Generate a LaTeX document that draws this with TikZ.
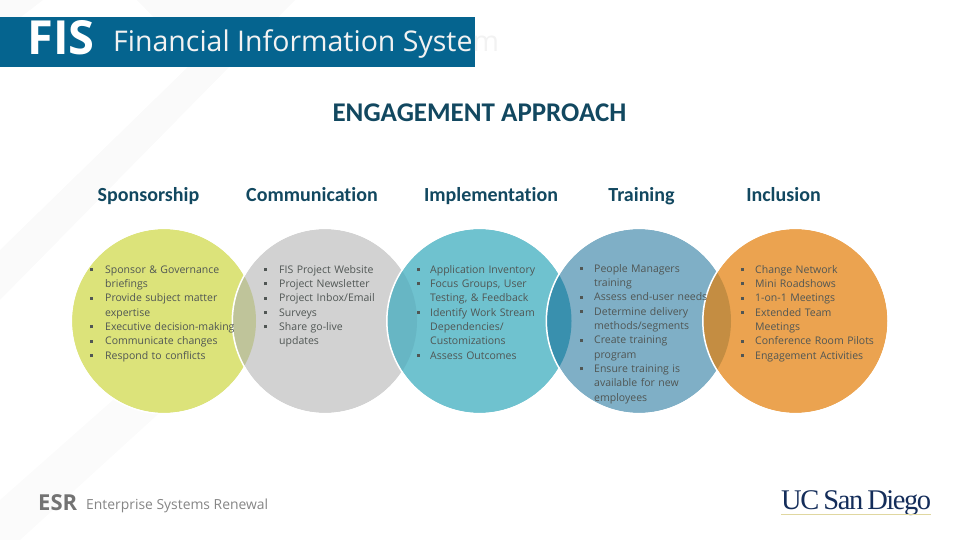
\documentclass[tikz,border=0pt]{standalone}
\usepackage{fontspec}
\setmainfont{Open Sans}
\newfontfamily\titlefont[Ligatures=NoCommon]{Carlito}
\newfontfamily\ucsdfont[LetterSpace=-5,WordSpace=0.7]{Liberation Serif}
\usetikzlibrary{math}
\definecolor{fisblue}{RGB}{5, 100, 143}
\definecolor{fisnavy}{RGB}{18, 72, 96}
\definecolor{fisgreen}{RGB}{220, 227, 122}
\definecolor{fisgray}{RGB}{210, 210, 210}
\definecolor{fisteal}{RGB}{111, 194, 207}
\definecolor{fissteel}{RGB}{127, 175, 198}
\definecolor{fisorange}{RGB}{235, 163, 80}
\definecolor{lapgreen}{RGB}{191, 196, 154}
\definecolor{lapteal}{RGB}{103, 182, 196}
\definecolor{lapsteel}{RGB}{57, 144, 174}
\definecolor{laporange}{RGB}{196, 141, 66}
\definecolor{bodygray}{RGB}{80, 86, 84}
\definecolor{ucsdnavy}{RGB}{20, 45, 90}
\definecolor{ucsdgold}{RGB}{224, 215, 160}

\newenvironment{fislist}[1]{%
  \begin{list}{\rule[0.18em]{3pt}{3pt}}{%
    \setlength{\leftmargin}{#1}\setlength{\labelwidth}{#1}\setlength{\labelsep}{0pt}%
    \setlength{\itemsep}{0pt}\setlength{\parsep}{0pt}\setlength{\topsep}{0pt}\setlength{\partopsep}{0pt}%
    \setlength{\parskip}{0pt}\setlength{\itemindent}{0pt}%
    \renewcommand{\makelabel}[1]{##1\hfill}}%
}{\end{list}}

\tikzset{
  header/.style={font=\fontsize{#1}{#1}\selectfont, anchor=base west, inner sep=0pt},
  coltitle/.style={font=\fontsize{20}{22}\selectfont\titlefont\bfseries, text=fisnavy, inner sep=0pt, anchor=base},
  listbox/.style={anchor=north west, inner sep=0pt, text width=170pt, text=bodygray,
    font=\fontsize{10.5}{14.33}\selectfont},
}

\begin{document}
\begin{tikzpicture}[x=1pt,y=-1pt]
\tikzmath{
\R=92;
\Y=321;
}
\useasboundingbox (0,0) rectangle (960,540);

%background
\fill[black!2] (137,0) -- (295,0) -- (0,300) -- (0,250) -- (195,60) -- cycle;
\fill[black!2] (0,0) -- (43,0) -- (0,33) -- cycle;
\fill[black!1.5] (0,500) -- (130,385) -- (190,385) -- (20,540) -- (0,540) -- cycle;

%circles
\foreach \cx/\px/\col/\lap in {164/0/fisgreen/fisgreen,325/164/fisgray/lapgreen,479.5/325/fisteal/lapteal,639/479.5/fissteel/lapsteel,795.5/639/fisorange/laporange}{
  \fill[color=\col] (\cx,\Y) circle(\R);
  \begin{scope}
    \clip (\px,\Y) circle(\R);
    \fill[color=\lap] (\cx,\Y) circle(\R);
  \end{scope}
  \draw[white, line width=1.5] (\cx,\Y) circle(\R+0.7);
}

%header
\fill[fisblue] (0,17) rectangle (475,67);
\node[header=47, text=white, font=\fontsize{47}{47}\selectfont\bfseries] (fis) at (27,55) {FIS};
\node[header=28.5, text=black!5] (fisname) at (113,52) {Financial Information System};
\node[text=fisnavy, font=\fontsize{27}{29}\selectfont\titlefont\bfseries, inner sep=0pt, anchor=base] (approach) at (479.5,122) {ENGAGEMENT APPROACH};

%column titles
\node[coltitle] (sponsorship) at (148.5,201) {Sponsorship};
\node[coltitle] (communication) at (312,201) {Communication};
\node[coltitle] (implementation) at (491,201) {Implementation};
\node[coltitle] (training) at (641.5,201) {Training};
\node[coltitle] (inclusion) at (783.5,201) {Inclusion};

%lists
\node[listbox] (sponsorlist) at (90,258.5) {\begin{fislist}{15pt}
\item Sponsor \& Governance\\ briefings
\item Provide subject matter\\ expertise
\item Executive decision-making
\item Communicate changes
\item Respond to conflicts
\end{fislist}};
\node[listbox] (commlist) at (264,258.5) {\begin{fislist}{15pt}
\item FIS Project Website
\item Project Newsletter
\item Project Inbox/Email
\item Surveys
\item Share go-live\\ updates
\end{fislist}};
\node[listbox] (implist) at (417,258.5) {\begin{fislist}{13pt}
\item Application Inventory
\item Focus Groups, User\\ Testing, \& Feedback
\item Identify Work Stream\\ Dependencies/\\ Customizations
\item Assess Outcomes
\end{fislist}};
\node[listbox] (trainlist) at (580,257.5) {\begin{fislist}{14pt}
\item People Managers\\ training
\item Assess end-user needs
\item Determine delivery\\ methods/segments
\item Create training\\ program
\item Ensure training is\\ available for new\\ employees
\end{fislist}};
\node[listbox] (inclist) at (741,258.5) {\begin{fislist}{14pt}
\item Change Network
\item Mini Roadshows
\item 1-on-1 Meetings
\item Extended Team\\ Meetings
\item Conference Room Pilots
\item Engagement Activities
\end{fislist}};

%logos
\node[header=22, text=black!55, font=\fontsize{22}{22}\selectfont\bfseries] (esr) at (38,510) {ESR};
\node[header=13.9, text=black!48] (esrname) at (86,509) {Enterprise Systems Renewal};
\node[header=28.5, text=ucsdnavy, font=\fontsize{28.5}{30}\ucsdfont] (ucsd) at (781,509) {UC San Diego};
\draw[ucsdgold, line width=1] (781,514) -- (931,514);
\end{tikzpicture}
\end{document}
